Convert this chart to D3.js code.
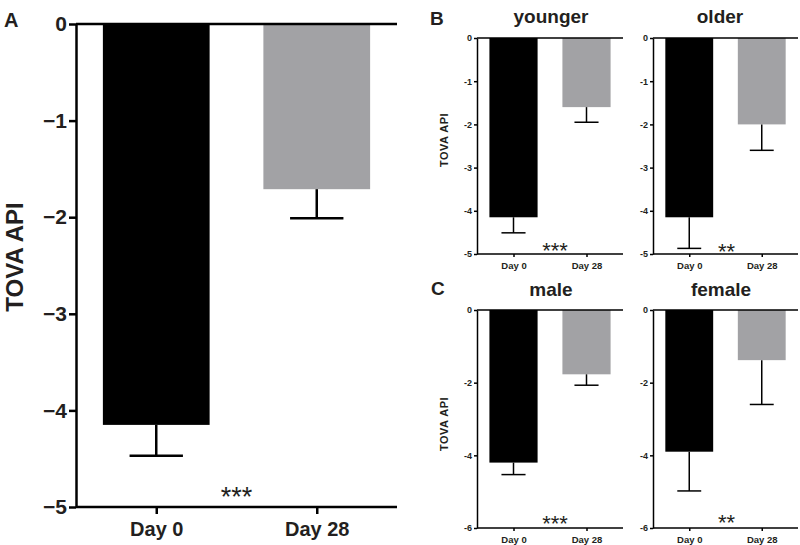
<!DOCTYPE html>
<html><head><meta charset="utf-8">
<script src="https://cdn.jsdelivr.net/npm/d3@7"></script>
<style>body{margin:0;background:#fff}svg{display:block;font-family:"Liberation Sans",Arial,sans-serif;font-weight:bold}</style>
</head><body>
<svg id="c" width="800" height="545"></svg>
<script>
const categories = ["Day 0", "Day 28"];
const colors = ["#000000", "#a2a2a5"];
// panel A (all)
const allMeans = [-4.15, -1.71];
const allErrors = [-4.47, -2.01];
// panel B
const youngerMeans = [-4.15, -1.60];
const youngerErrors = [-4.51, -1.95];
const olderMeans = [-4.15, -2.00];
const olderErrors = [-4.87, -2.60];
// panel C
const maleMeans = [-4.20, -1.77];
const maleErrors = [-4.53, -2.07];
const femaleMeans = [-3.90, -1.38];
const femaleErrors = [-4.98, -2.60];
const sigLabels = ["***", "***", "**", "***", "**"];
const titles = ["younger", "older", "male", "female"];
const ticksA = [0, -1, -2, -3, -4, -5];
const ticksB = [0, -1, -2, -3, -4, -5];
const ticksC = [0, -2, -4, -6];
const textColor = "#231f20";

const svg = d3.select("#c");

function panel(o) {
  const g = svg.append("g");
  const y = d3.scaleLinear().domain(o.domain).range([o.y0, o.y1]);
  const x = d3.scalePoint().domain(categories).range([o.x0, o.x1]).padding(0.5);
  const bw = x.step() * o.barFrac;
  g.selectAll("rect.bar").data(o.means).join("rect")
    .attr("x", (d, i) => x(categories[i]) - bw / 2)
    .attr("y", y(0))
    .attr("width", bw)
    .attr("height", d => y(d) - y(0))
    .attr("fill", (d, i) => colors[i]);
  const cap = bw * o.capFrac;
  o.errors.forEach((e, i) => {
    const cx = x(categories[i]);
    g.append("line").attr("x1", cx).attr("x2", cx).attr("y1", y(o.means[i])).attr("y2", y(e))
      .attr("stroke", "#000").attr("stroke-width", o.sw);
    g.append("line").attr("x1", cx - cap / 2).attr("x2", cx + cap / 2).attr("y1", y(e)).attr("y2", y(e))
      .attr("stroke", "#000").attr("stroke-width", o.sw);
  });
  const ya = g.append("g").attr("transform", `translate(${o.x0},0)`)
    .call(d3.axisLeft(y).tickValues(o.ticks).tickSize(o.tick).tickSizeOuter(0).tickPadding(o.tpad)
      .tickFormat(d => o.minus ? d3.format("")(d) : String(d)));
  ya.select(".domain").attr("stroke-width", o.sw);
  ya.selectAll(".tick line").attr("stroke-width", o.sw);
  ya.selectAll("text").attr("font-size", o.tfs).attr("font-weight", "bold").attr("font-family", "Liberation Sans, Arial, sans-serif").attr("fill", textColor);
  g.append("line").attr("x1", o.x0).attr("x2", o.x1).attr("y1", y(0)).attr("y2", y(0)).attr("stroke", "#000").attr("stroke-width", o.sw);
  const xa = g.append("g").attr("transform", `translate(0,${o.y1})`)
    .call(d3.axisBottom(x).tickSize(o.tick).tickSizeOuter(0).tickPadding(o.xpad));
  xa.select(".domain").attr("stroke-width", o.sw).attr("d", `M${o.x0},0H${o.x1}`);
  xa.selectAll(".tick line").attr("stroke-width", o.sw);
  xa.selectAll("text").attr("font-size", o.xfs).attr("font-weight", "bold").attr("font-family", "Liberation Sans, Arial, sans-serif").attr("fill", textColor);
  g.append("text").attr("x", (x(categories[0]) + x(categories[1])) / 2 + o.sigDx)
    .attr("y", o.y1 - o.sigC + 0.575 * o.sigFs)
    .attr("text-anchor", "middle").attr("font-size", o.sigFs).attr("font-weight", "normal")
    .attr("letter-spacing", o.sigLs).attr("fill", textColor).text(o.sig);
  if (o.title) g.append("text").attr("x", o.titleX).attr("y", o.titleY).attr("text-anchor", "middle")
    .attr("font-size", 19).attr("fill", textColor).text(o.title);
  if (o.ylabel) g.append("text").attr("transform", `translate(${o.ylx},${o.yly}) rotate(-90)`)
    .attr("text-anchor", "middle").attr("font-size", o.ylfs).attr("font-weight", o.ylfw)
    .attr("letter-spacing", o.ylls || 0).attr("fill", textColor).text(o.ylabel);
}

const small = {barFrac: 0.66, capFrac: 0.5, sw: 1.5, tick: 3, tpad: 2, tfs: 9, xfs: 9.5, xpad: 5, sigFs: 22, sigLs: 0};

panel({means: allMeans, errors: allErrors, sig: sigLabels[0], domain: [0, -5], ticks: ticksA, x0: 76, x1: 397, y0: 24, y1: 507,
  barFrac: 0.665, capFrac: 0.5, sw: 2.5, tick: 7, tpad: 2, tfs: 21, xfs: 20, xpad: 8, sigC: 17, sigDx: 0, sigFs: 27, sigLs: 0, minus: true,
  ylabel: "TOVA API", ylx: 23, yly: 257, ylfs: 24, ylfw: "bold"});
panel(Object.assign({}, small, {means: youngerMeans, errors: youngerErrors, sig: sigLabels[1], domain: [0, -5], ticks: ticksB,
  x0: 477, x1: 623, y0: 38, y1: 254, sigC: 9, sigDx: 5,
  title: titles[0], titleX: 551, titleY: 23, ylabel: "TOVA API", ylx: 448, yly: 140, ylfs: 11, ylfw: "bold", ylls: 0.5}));
panel(Object.assign({}, small, {means: olderMeans, errors: olderErrors, sig: sigLabels[2], domain: [0, -5], ticks: ticksB,
  x0: 653, x1: 798, y0: 38, y1: 254, sigC: 8, sigDx: 1,
  title: titles[1], titleX: 720, titleY: 23}));
panel(Object.assign({}, small, {means: maleMeans, errors: maleErrors, sig: sigLabels[3], domain: [0, -6], ticks: ticksC,
  x0: 477, x1: 623, y0: 310, y1: 528, sigC: 10, sigDx: 5,
  title: titles[2], titleX: 551, titleY: 296, ylabel: "TOVA API", ylx: 448, yly: 424, ylfs: 11, ylfw: "bold", ylls: 0.5}));
panel(Object.assign({}, small, {means: femaleMeans, errors: femaleErrors, sig: sigLabels[4], domain: [0, -6], ticks: ticksC,
  x0: 653, x1: 798, y0: 310, y1: 528, sigC: 11, sigDx: 1,
  title: titles[3], titleX: 721, titleY: 296}));

svg.append("text").attr("x", 4).attr("y", 27).attr("font-size", 20).attr("fill", textColor).text("A");
svg.append("text").attr("x", 430).attr("y", 25).attr("font-size", 19).attr("fill", textColor).text("B");
svg.append("text").attr("x", 431).attr("y", 295).attr("font-size", 19).attr("fill", textColor).text("C");
</script>
</body></html>
